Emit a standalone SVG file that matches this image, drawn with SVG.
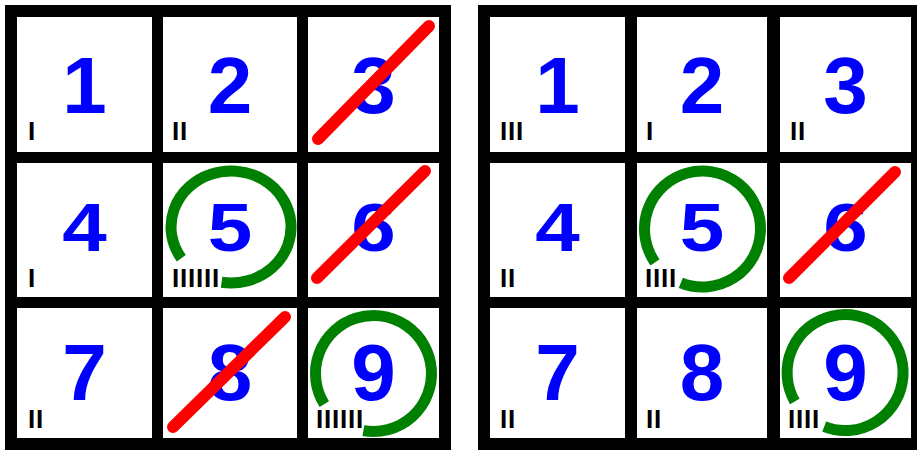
<svg xmlns="http://www.w3.org/2000/svg" width="917" height="450" viewBox="0 0 917 450">
<style>
.frame{fill:#000}
.cell{fill:#fff}
.num{font-family:"Liberation Sans",Arial,sans-serif;font-weight:bold;font-size:80px;fill:#0000ff;text-anchor:middle}
.tally{font-family:"Liberation Sans",Arial,sans-serif;font-weight:bold;font-size:26px;fill:#000;letter-spacing:0.8px}
.cross{stroke:#ff0000;stroke-width:12;stroke-linecap:round;fill:none}
.ring{stroke:#008000;stroke-width:11;fill:none}
</style>
<rect width="917" height="450" fill="#fff"/>
<g id="left-grid">
<rect class="frame" x="5" y="5" width="446" height="445"/>
<g id="L1"><rect class="cell" x="17" y="17" width="135" height="135"/><text class="num" x="84.5" y="113">1</text><text class="tally" x="28" y="140">I</text></g>
<g id="L2"><rect class="cell" x="163" y="17" width="134" height="135"/><text class="num" x="230" y="113">2</text><text class="tally" x="172" y="140">II</text></g>
<g id="L3"><rect class="cell" x="308" y="17" width="131" height="135"/><text class="num" x="373.5" y="113">3</text><line class="cross" x1="318" y1="139" x2="429" y2="26"/></g>
<g id="L4"><rect class="cell" x="17" y="163" width="135" height="134"/><text class="num" transform="translate(84.5,251) scale(1,0.86)">4</text><text class="tally" x="28" y="287">I</text></g>
<g id="L5"><rect class="cell" x="163" y="163" width="134" height="134"/><text class="num" transform="translate(230,251) scale(1,0.86)">5</text><text class="tally" x="172" y="287">IIIIII</text><path class="ring" d="M181.3,258.3 A60,56 0 1 1 221.6,282.3"/></g>
<g id="L6"><rect class="cell" x="308" y="163" width="131" height="134"/><text class="num" transform="translate(373.5,251) scale(1,0.86)">6</text><line class="cross" x1="317" y1="278" x2="425" y2="171"/></g>
<g id="L7"><rect class="cell" x="17" y="308" width="135" height="130"/><text class="num" x="84.5" y="400">7</text><text class="tally" x="28" y="428">II</text></g>
<g id="L8"><rect class="cell" x="163" y="308" width="134" height="130"/><text class="num" x="230" y="400">8</text><line class="cross" x1="173" y1="427" x2="285" y2="317"/></g>
<g id="L9"><rect class="cell" x="308" y="308" width="131" height="130"/><text class="num" x="373.5" y="400">9</text><text class="tally" x="316" y="428">IIIIII</text><path class="ring" d="M324.3,404.2 A58,58 0 1 1 363.4,430.6"/></g>
</g>
<g id="right-grid">
<rect class="frame" x="478" y="5" width="445" height="445"/>
<g id="R1"><rect class="cell" x="490" y="17" width="135" height="135"/><text class="num" x="557.5" y="113">1</text><text class="tally" x="500" y="140">III</text></g>
<g id="R2"><rect class="cell" x="637" y="17" width="130" height="135"/><text class="num" x="702" y="113">2</text><text class="tally" x="646" y="140">I</text></g>
<g id="R3"><rect class="cell" x="780" y="17" width="131" height="135"/><text class="num" x="845.5" y="113">3</text><text class="tally" x="790" y="140">II</text></g>
<g id="R4"><rect class="cell" x="490" y="163" width="135" height="134"/><text class="num" transform="translate(557.5,251) scale(1,0.86)">4</text><text class="tally" x="500" y="287">II</text></g>
<g id="R5"><rect class="cell" x="637" y="163" width="130" height="134"/><text class="num" transform="translate(702,251) scale(1,0.86)">5</text><text class="tally" x="645" y="287">IIII</text><path class="ring" d="M655,262.3 A58,58 0 1 1 680.8,282.8"/></g>
<g id="R6"><rect class="cell" x="780" y="163" width="131" height="134"/><text class="num" transform="translate(845.5,251) scale(1,0.86)">6</text><line class="cross" x1="789" y1="278" x2="895" y2="172"/></g>
<g id="R7"><rect class="cell" x="490" y="308" width="135" height="130"/><text class="num" x="557.5" y="400">7</text><text class="tally" x="500" y="428">II</text></g>
<g id="R8"><rect class="cell" x="637" y="308" width="130" height="130"/><text class="num" x="702" y="400">8</text><text class="tally" x="646" y="428">II</text></g>
<g id="R9"><rect class="cell" x="780" y="308" width="131" height="130"/><text class="num" x="845.5" y="400">9</text><text class="tally" x="788" y="428">IIII</text><path class="ring" d="M794.8,401.5 A58,58 0 1 1 824.2,426.7"/></g>
</g>
</svg>
